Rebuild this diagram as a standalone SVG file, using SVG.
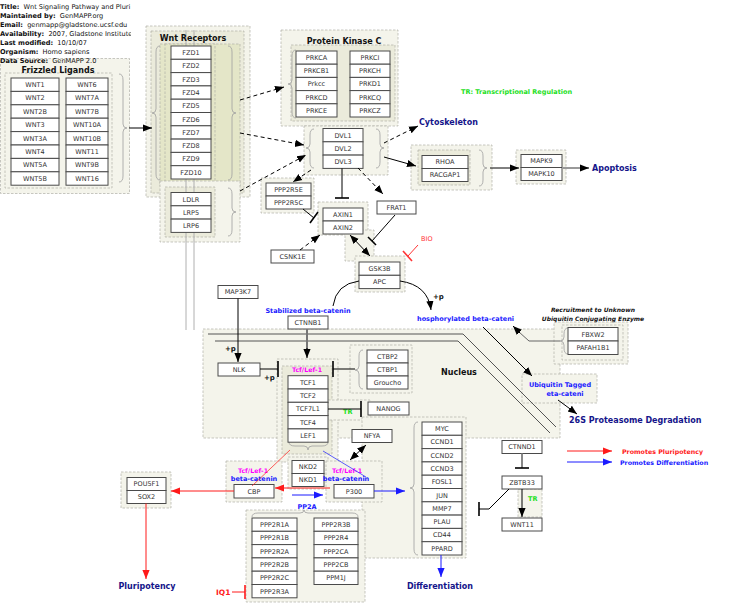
<svg xmlns="http://www.w3.org/2000/svg" width="729" height="613" viewBox="0 0 729 613">
<style>
.b{fill:#fff;stroke:#4a4a4a;stroke-width:1}
.t{font-family:"DejaVu Sans",sans-serif;font-size:6.5px;fill:#333;text-anchor:middle}
.g1{fill:#f4f4eb;stroke:#b0b0a8;stroke-width:0.7;stroke-dasharray:2.5 1.5}
.g2{fill:#ebebdb;stroke:#b0b0a8;stroke-width:0.7;stroke-dasharray:2.5 1.5}
.g3{fill:#e4e6c8;stroke:#b0b0a8;stroke-width:0.7;stroke-dasharray:2.5 1.5}
.br{fill:none;stroke:#a0a0a0;stroke-width:0.8}
.hd{font-family:"DejaVu Sans",sans-serif;font-size:6.6px;fill:#111}
.ti{font-family:"DejaVu Sans",sans-serif;font-weight:bold;font-size:8px;fill:#111;text-anchor:middle}
.nv{font-family:"DejaVu Sans",sans-serif;font-weight:bold;font-size:8px;fill:#14148a}
.bl{font-family:"DejaVu Sans",sans-serif;font-weight:bold;font-size:6.5px;fill:#1a1aff}
.mg{font-family:"DejaVu Sans",sans-serif;font-weight:bold;font-size:6.3px;fill:#ff00ff}
.gr{font-family:"DejaVu Sans",sans-serif;font-weight:bold;font-size:6.5px;fill:#22e022}
.c{fill:none;stroke:#000;stroke-width:1}
.d{fill:none;stroke:#000;stroke-width:1;stroke-dasharray:4 3}
.ib{fill:none;stroke:#000;stroke-width:1.6}
.p{font-family:"DejaVu Sans",sans-serif;font-weight:bold;font-size:7px;fill:#111}
</style>
<defs>
<marker id="ah" viewBox="0 0 10 10" refX="10" refY="5" markerWidth="9" markerHeight="9" orient="auto-start-reverse" markerUnits="userSpaceOnUse"><path d="M0,1 L10,5 L0,9 z" fill="#000"/></marker>
<marker id="ar" viewBox="0 0 10 10" refX="10" refY="5" markerWidth="9" markerHeight="9" orient="auto" markerUnits="userSpaceOnUse"><path d="M0,1 L10,5 L0,9 z" fill="#ff1a1a"/></marker>
<marker id="ab" viewBox="0 0 10 10" refX="10" refY="5" markerWidth="9" markerHeight="9" orient="auto" markerUnits="userSpaceOnUse"><path d="M0,1 L10,5 L0,9 z" fill="#1a1aff"/></marker>
<clipPath id="hc"><rect x="0" y="0" width="131" height="70"/></clipPath>
</defs>
<rect width="729" height="613" fill="#fff"/>

<!-- group backgrounds -->
<g id="groups">
<rect class="g1" x="203" y="329" width="357" height="109"/>
<rect class="g1" x="0.5" y="58.5" width="129" height="135"/>
<rect class="g1" x="5" y="73" width="107" height="115"/>
<path class="br" d="M119,74 Q123,74 123,80 L123,124 Q123,128 127,128 Q123,128 123,132 L123,176 Q123,182 119,182"/>
<rect class="g1" x="146" y="26" width="104" height="171"/>
<rect class="g2" x="151" y="31" width="93" height="162"/>
<rect class="g3" x="160" y="44" width="80" height="142"/>
<rect class="g3" x="165" y="44" width="50" height="139"/>
<path class="br" d="M160,46 Q156,46 156,52 L156,109 Q156,113 152,113 Q156,113 156,117 L156,174 Q156,180 160,180"/>
<path class="br" d="M228,46 Q232,46 232,52 L232,109 Q232,113 236,113 Q232,113 232,117 L232,174 Q232,180 228,180"/>
<rect class="g1" x="160" y="181" width="80" height="61"/>
<rect class="g2" x="165" y="187" width="50" height="50"/>
<path class="br" d="M228,188 Q232,188 232,194 L232,208 Q232,212 236,212 Q232,212 232,216 L232,230 Q232,236 228,236"/>
<rect class="g1" x="281" y="30" width="117" height="96"/>
<rect class="g2" x="291" y="45" width="104" height="76"/>
<path class="br" d="M296,50 Q292,50 292,56 L292,80 Q292,84 288,84 Q292,84 292,88 L292,112 Q292,118 296,118"/>
<rect class="g1" x="304" y="126" width="84" height="49"/>
<path class="br" d="M314,129 Q310,129 310,135 L310,144 Q310,148 306,148 Q310,148 310,152 L310,162 Q310,168 314,168"/>
<path class="br" d="M376,129 Q380,129 380,135 L380,144 Q380,148 384,148 Q380,148 380,152 L380,162 Q380,168 376,168"/>
<rect class="g1" x="411" y="145" width="81" height="45"/>
<rect class="g2" x="418" y="150" width="52" height="35"/>
<path class="br" d="M479,150 Q483,150 483,156 L483,164 Q483,168 487,168 Q483,168 483,172 L483,180 Q483,186 479,186"/>
<rect class="g1" x="516" y="150" width="50" height="34"/>
<rect class="g1" x="261" y="178" width="53" height="35"/>
<rect class="g1" x="318" y="202" width="50" height="33"/>
<rect class="g1" x="345" y="230" width="29" height="31"/>
<rect class="g1" x="355" y="256" width="50" height="36"/>
<rect class="g1" x="277" y="359" width="61" height="103"/>
<rect class="g2" x="282" y="366" width="50" height="88"/>
<path class="br" d="M289,442 Q289,446 295,446 L304,446 Q308,446 308,450 Q308,446 312,446 L322,446 Q328,446 328,442"/>
<rect class="g1" x="350" y="345" width="62" height="48"/>
<path class="br" d="M363,350 Q359,350 359,356 L359,366 Q359,370 355,370 Q359,370 359,374 L359,383 Q359,389 363,389"/>
<rect class="g1" x="328" y="400" width="42" height="20"/>
<rect class="g1" x="362" y="417" width="104" height="141"/>
<path class="br" d="M418,422 Q414,422 414,428 L414,484 Q414,488 410,488 Q414,488 414,492 L414,549 Q414,555 418,555"/>
<rect class="g1" x="288" y="457" width="40" height="32"/>
<rect class="g1" x="226" y="461" width="56" height="41"/>
<rect class="g1" x="326" y="461" width="56" height="41"/>
<rect class="g1" x="121" y="472" width="50" height="36"/>
<rect class="g1" x="246" y="510" width="119" height="92"/>
<path class="br" d="M252,517 Q252,513 258,513 L300,513 Q304,513 304,510 Q304,513 308,513 L352,513 Q358,513 358,517"/>
<rect class="g1" x="522" y="374" width="75" height="29"/>
<rect class="g1" x="554" y="322" width="74" height="42"/>
<rect class="g1" x="562" y="325" width="61" height="35"/>
<path class="br" d="M568,328 Q564,328 564,334 L564,337 Q564,341 560,341 Q564,341 564,345 L564,348 Q564,354 568,354"/>
<rect class="g1" x="518" y="489" width="24" height="28"/>
</g>

<!-- header -->
<g id="header" clip-path="url(#hc)">
<text class="hd" x="0" y="9"><tspan font-weight="bold">Title:</tspan>&#160; Wnt Signaling Pathway and Pluri</text>
<text class="hd" x="0" y="18"><tspan font-weight="bold">Maintained by:</tspan>&#160; GenMAPP.org</text>
<text class="hd" x="0" y="27.3"><tspan font-weight="bold">Email:</tspan>&#160; genmapp@gladstone.ucsf.edu</text>
<text class="hd" x="0" y="36.3"><tspan font-weight="bold">Availability:</tspan>&#160; 2007, Gladstone Institute</text>
<text class="hd" x="0" y="45.3"><tspan font-weight="bold">Last modified:</tspan>&#160; 10/10/07</text>
<text class="hd" x="0" y="54.3"><tspan font-weight="bold">Organism:</tspan>&#160; Homo sapiens</text>
<text class="hd" x="0" y="63"><tspan font-weight="bold">Data Source:</tspan>&#160; GenMAPP 2.0</text>
</g>

<!-- membranes -->
<g id="membranes" fill="none" stroke="#b0b0b0" stroke-width="1">
<line x1="186" y1="30" x2="186" y2="330"/>
<line x1="194" y1="30" x2="194" y2="330"/>
<polyline stroke="#555" points="208,334 463,334 556,427"/>
<polyline stroke="#555" points="215,341 458,341 550,433"/>
</g>

<!-- nodes -->
<g id="n-WNT1"><rect class="b" x="11" y="78" width="48" height="13.4"/><text class="t" x="35" y="87">WNT1</text></g>
<g id="n-WNT2"><rect class="b" x="11" y="91.4" width="48" height="13.4"/><text class="t" x="35" y="100.4">WNT2</text></g>
<g id="n-WNT2B"><rect class="b" x="11" y="104.8" width="48" height="13.4"/><text class="t" x="35" y="113.8">WNT2B</text></g>
<g id="n-WNT3"><rect class="b" x="11" y="118.2" width="48" height="13.4"/><text class="t" x="35" y="127.2">WNT3</text></g>
<g id="n-WNT3A"><rect class="b" x="11" y="131.6" width="48" height="13.4"/><text class="t" x="35" y="140.6">WNT3A</text></g>
<g id="n-WNT4"><rect class="b" x="11" y="145" width="48" height="13.4"/><text class="t" x="35" y="154">WNT4</text></g>
<g id="n-WNT5A"><rect class="b" x="11" y="158.4" width="48" height="13.4"/><text class="t" x="35" y="167.4">WNT5A</text></g>
<g id="n-WNT5B"><rect class="b" x="11" y="171.8" width="48" height="13.4"/><text class="t" x="35" y="180.8">WNT5B</text></g>
<g id="n-WNT6"><rect class="b" x="66" y="78" width="42" height="13.4"/><text class="t" x="87" y="87">WNT6</text></g>
<g id="n-WNT7A"><rect class="b" x="66" y="91.4" width="42" height="13.4"/><text class="t" x="87" y="100.4">WNT7A</text></g>
<g id="n-WNT7B"><rect class="b" x="66" y="104.8" width="42" height="13.4"/><text class="t" x="87" y="113.8">WNT7B</text></g>
<g id="n-WNT10A"><rect class="b" x="66" y="118.2" width="42" height="13.4"/><text class="t" x="87" y="127.2">WNT10A</text></g>
<g id="n-WNT10B"><rect class="b" x="66" y="131.6" width="42" height="13.4"/><text class="t" x="87" y="140.6">WNT10B</text></g>
<g id="n-WNT11a"><rect class="b" x="66" y="145" width="42" height="13.4"/><text class="t" x="87" y="154">WNT11</text></g>
<g id="n-WNT9B"><rect class="b" x="66" y="158.4" width="42" height="13.4"/><text class="t" x="87" y="167.4">WNT9B</text></g>
<g id="n-WNT16"><rect class="b" x="66" y="171.8" width="42" height="13.4"/><text class="t" x="87" y="180.8">WNT16</text></g>
<text class="ti" x="58" y="72.5">Frizzled Ligands</text>

<text class="ti" x="193" y="41">Wnt Receptors</text>
<g id="n-FZD1"><rect class="b" x="171" y="46" width="40" height="13.3"/><text class="t" x="191" y="55">FZD1</text></g>
<g id="n-FZD2"><rect class="b" x="171" y="59.3" width="40" height="13.3"/><text class="t" x="191" y="68.3">FZD2</text></g>
<g id="n-FZD3"><rect class="b" x="171" y="72.6" width="40" height="13.3"/><text class="t" x="191" y="81.6">FZD3</text></g>
<g id="n-FZD4"><rect class="b" x="171" y="85.9" width="40" height="13.3"/><text class="t" x="191" y="94.9">FZD4</text></g>
<g id="n-FZD5"><rect class="b" x="171" y="99.2" width="40" height="13.3"/><text class="t" x="191" y="108.2">FZD5</text></g>
<g id="n-FZD6"><rect class="b" x="171" y="112.5" width="40" height="13.3"/><text class="t" x="191" y="121.5">FZD6</text></g>
<g id="n-FZD7"><rect class="b" x="171" y="125.8" width="40" height="13.3"/><text class="t" x="191" y="134.8">FZD7</text></g>
<g id="n-FZD8"><rect class="b" x="171" y="139.1" width="40" height="13.3"/><text class="t" x="191" y="148.1">FZD8</text></g>
<g id="n-FZD9"><rect class="b" x="171" y="152.4" width="40" height="13.3"/><text class="t" x="191" y="161.4">FZD9</text></g>
<g id="n-FZD10"><rect class="b" x="171" y="165.7" width="40" height="13.3"/><text class="t" x="191" y="174.7">FZD10</text></g>
<g id="n-LDLR"><rect class="b" x="171" y="192.5" width="40" height="13.3"/><text class="t" x="191" y="201.5">LDLR</text></g>
<g id="n-LRP5"><rect class="b" x="171" y="205.8" width="40" height="13.3"/><text class="t" x="191" y="214.8">LRP5</text></g>
<g id="n-LRP6"><rect class="b" x="171" y="219.1" width="40" height="13.3"/><text class="t" x="191" y="228.1">LRP6</text></g>

<text class="ti" x="344" y="44">Protein Kinase C</text>
<g id="n-PRKCA"><rect class="b" x="296" y="51" width="41" height="13.2"/><text class="t" x="316.5" y="60">PRKCA</text></g>
<g id="n-PRKCB1"><rect class="b" x="296" y="64.2" width="41" height="13.2"/><text class="t" x="316.5" y="73.2">PRKCB1</text></g>
<g id="n-Prkcc"><rect class="b" x="296" y="77.4" width="41" height="13.2"/><text class="t" x="316.5" y="86.4">Prkcc</text></g>
<g id="n-PRKCD"><rect class="b" x="296" y="90.6" width="41" height="13.2"/><text class="t" x="316.5" y="99.6">PRKCD</text></g>
<g id="n-PRKCE"><rect class="b" x="296" y="103.8" width="41" height="13.2"/><text class="t" x="316.5" y="112.8">PRKCE</text></g>
<g id="n-PRKCI"><rect class="b" x="350" y="51" width="40" height="13.2"/><text class="t" x="370" y="60">PRKCI</text></g>
<g id="n-PRKCH"><rect class="b" x="350" y="64.2" width="40" height="13.2"/><text class="t" x="370" y="73.2">PRKCH</text></g>
<g id="n-PRKD1"><rect class="b" x="350" y="77.4" width="40" height="13.2"/><text class="t" x="370" y="86.4">PRKD1</text></g>
<g id="n-PRKCQ"><rect class="b" x="350" y="90.6" width="40" height="13.2"/><text class="t" x="370" y="99.6">PRKCQ</text></g>
<g id="n-PRKCZ"><rect class="b" x="350" y="103.8" width="40" height="13.2"/><text class="t" x="370" y="112.8">PRKCZ</text></g>

<g id="n-DVL1"><rect class="b" x="323" y="128.5" width="40" height="13.3"/><text class="t" x="343" y="137.5">DVL1</text></g>
<g id="n-DVL2"><rect class="b" x="323" y="141.8" width="40" height="13.3"/><text class="t" x="343" y="150.8">DVL2</text></g>
<g id="n-DVL3"><rect class="b" x="323" y="155.1" width="40" height="13.3"/><text class="t" x="343" y="164.1">DVL3</text></g>

<g id="n-RHOA"><rect class="b" x="422" y="155.5" width="46" height="13"/><text class="t" x="445" y="164.3">RHOA</text></g>
<g id="n-RACGAP1"><rect class="b" x="422" y="168.5" width="46" height="13"/><text class="t" x="445" y="177.3">RACGAP1</text></g>
<g id="n-MAPK9"><rect class="b" x="521" y="154.5" width="41" height="13"/><text class="t" x="541.5" y="163.3">MAPK9</text></g>
<g id="n-MAPK10"><rect class="b" x="521" y="167.5" width="41" height="13"/><text class="t" x="541.5" y="176.3">MAPK10</text></g>

<g id="n-PPP2R5E"><rect class="b" x="266" y="183" width="45" height="13"/><text class="t" x="288.5" y="191.8">PPP2R5E</text></g>
<g id="n-PPP2R5C"><rect class="b" x="266" y="196" width="45" height="13"/><text class="t" x="288.5" y="204.8">PPP2R5C</text></g>
<g id="n-AXIN1"><rect class="b" x="323" y="208" width="40" height="13"/><text class="t" x="343" y="216.8">AXIN1</text></g>
<g id="n-AXIN2"><rect class="b" x="323" y="221" width="40" height="13"/><text class="t" x="343" y="229.8">AXIN2</text></g>
<g id="n-FRAT1"><rect class="b" x="377" y="201" width="39" height="13"/><text class="t" x="396.5" y="209.8">FRAT1</text></g>
<g id="n-CSNK1E"><rect class="b" x="271" y="250" width="43" height="13"/><text class="t" x="292.5" y="258.8">CSNK1E</text></g>
<g id="n-GSK3B"><rect class="b" x="359" y="262" width="41" height="13.3"/><text class="t" x="379.5" y="271">GSK3B</text></g>
<g id="n-APC"><rect class="b" x="359" y="275.3" width="41" height="13.3"/><text class="t" x="379.5" y="284.3">APC</text></g>
<g id="n-MAP3K7"><rect class="b" x="218" y="285.5" width="40" height="13"/><text class="t" x="238" y="294.3">MAP3K7</text></g>
<g id="n-CTNNB1"><rect class="b" x="288" y="316" width="40" height="13"/><text class="t" x="308" y="324.8">CTNNB1</text></g>
<g id="n-NLK"><rect class="b" x="218" y="363" width="42" height="13"/><text class="t" x="239" y="371.8">NLK</text></g>

<text class="mg" x="307" y="372" text-anchor="middle">Tcf/Lef-1</text>
<g id="n-TCF1"><rect class="b" x="288" y="375.7" width="40" height="13.3"/><text class="t" x="308" y="384.7">TCF1</text></g>
<g id="n-TCF2"><rect class="b" x="288" y="389" width="40" height="13.3"/><text class="t" x="308" y="398">TCF2</text></g>
<g id="n-TCF7L1"><rect class="b" x="288" y="402.3" width="40" height="13.3"/><text class="t" x="308" y="411.3">TCF7L1</text></g>
<g id="n-TCF4"><rect class="b" x="288" y="415.6" width="40" height="13.3"/><text class="t" x="308" y="424.6">TCF4</text></g>
<g id="n-LEF1"><rect class="b" x="288" y="428.9" width="40" height="13.3"/><text class="t" x="308" y="437.9">LEF1</text></g>
<g id="n-CTBP2"><rect class="b" x="367" y="350" width="41" height="13"/><text class="t" x="387.5" y="358.8">CTBP2</text></g>
<g id="n-CTBP1"><rect class="b" x="367" y="363" width="41" height="13"/><text class="t" x="387.5" y="371.8">CTBP1</text></g>
<g id="n-Groucho"><rect class="b" x="367" y="376" width="41" height="13"/><text class="t" x="387.5" y="384.8">Groucho</text></g>
<g id="n-NANOG"><rect class="b" x="368" y="402" width="41" height="13"/><text class="t" x="388.5" y="410.8">NANOG</text></g>
<g id="n-NFYA"><rect class="b" x="352" y="429.5" width="40" height="13"/><text class="t" x="372" y="438.3">NFYA</text></g>

<g id="n-MYC"><rect class="b" x="422" y="422" width="40" height="13.3"/><text class="t" x="442" y="431">MYC</text></g>
<g id="n-CCND1"><rect class="b" x="422" y="435.3" width="40" height="13.3"/><text class="t" x="442" y="444.3">CCND1</text></g>
<g id="n-CCND2"><rect class="b" x="422" y="448.6" width="40" height="13.3"/><text class="t" x="442" y="457.6">CCND2</text></g>
<g id="n-CCND3"><rect class="b" x="422" y="461.9" width="40" height="13.3"/><text class="t" x="442" y="470.9">CCND3</text></g>
<g id="n-FOSL1"><rect class="b" x="422" y="475.2" width="40" height="13.3"/><text class="t" x="442" y="484.2">FOSL1</text></g>
<g id="n-JUN"><rect class="b" x="422" y="488.5" width="40" height="13.3"/><text class="t" x="442" y="497.5">JUN</text></g>
<g id="n-MMP7"><rect class="b" x="422" y="501.8" width="40" height="13.3"/><text class="t" x="442" y="510.8">MMP7</text></g>
<g id="n-PLAU"><rect class="b" x="422" y="515.1" width="40" height="13.3"/><text class="t" x="442" y="524.1">PLAU</text></g>
<g id="n-CD44"><rect class="b" x="422" y="528.4" width="40" height="13.3"/><text class="t" x="442" y="537.4">CD44</text></g>
<g id="n-PPARD"><rect class="b" x="422" y="541.7" width="40" height="13.3"/><text class="t" x="442" y="550.7">PPARD</text></g>

<g id="n-NKD2"><rect class="b" x="292" y="460.5" width="32" height="13"/><text class="t" x="308" y="469.3">NKD2</text></g>
<g id="n-NKD1"><rect class="b" x="292" y="473.5" width="32" height="13"/><text class="t" x="308" y="482.3">NKD1</text></g>
<g id="n-CBP"><text class="mg" x="253" y="472.5" text-anchor="middle">Tcf/Lef-1</text><text class="bl" x="254" y="480.5" text-anchor="middle">beta-catenin</text><rect class="b" x="234" y="484.5" width="40" height="13.5"/><text class="t" x="254" y="493.5">CBP</text></g>
<g id="n-P300"><text class="mg" x="347" y="472.5" text-anchor="middle">Tcf/Lef-1</text><text class="bl" x="346" y="480.5" text-anchor="middle">beta-catenin</text><rect class="b" x="334" y="484.5" width="40" height="13.5"/><text class="t" x="354" y="493.5">P300</text></g>
<g id="n-POU5F1"><rect class="b" x="127" y="477.5" width="39" height="13"/><text class="t" x="146.5" y="486.3">POU5F1</text></g>
<g id="n-SOX2"><rect class="b" x="127" y="490.5" width="39" height="13"/><text class="t" x="146.5" y="499.3">SOX2</text></g>

<g id="n-PPP2R1A"><rect class="b" x="252" y="518" width="45" height="13.3"/><text class="t" x="274.5" y="527">PPP2R1A</text></g>
<g id="n-PPP2R1B"><rect class="b" x="252" y="531.3" width="45" height="13.3"/><text class="t" x="274.5" y="540.3">PPP2R1B</text></g>
<g id="n-PPP2R2A"><rect class="b" x="252" y="544.6" width="45" height="13.3"/><text class="t" x="274.5" y="553.6">PPP2R2A</text></g>
<g id="n-PPP2R2B"><rect class="b" x="252" y="557.9" width="45" height="13.3"/><text class="t" x="274.5" y="566.9">PPP2R2B</text></g>
<g id="n-PPP2R2C"><rect class="b" x="252" y="571.2" width="45" height="13.3"/><text class="t" x="274.5" y="580.2">PPP2R2C</text></g>
<g id="n-PPP2R3A"><rect class="b" x="252" y="584.5" width="45" height="13.3"/><text class="t" x="274.5" y="593.5">PPP2R3A</text></g>
<g id="n-PPP2R3B"><rect class="b" x="314" y="518" width="44" height="13.3"/><text class="t" x="336" y="527">PPP2R3B</text></g>
<g id="n-PPP2R4"><rect class="b" x="314" y="531.3" width="44" height="13.3"/><text class="t" x="336" y="540.3">PPP2R4</text></g>
<g id="n-PPP2CA"><rect class="b" x="314" y="544.6" width="44" height="13.3"/><text class="t" x="336" y="553.6">PPP2CA</text></g>
<g id="n-PPP2CB"><rect class="b" x="314" y="557.9" width="44" height="13.3"/><text class="t" x="336" y="566.9">PPP2CB</text></g>
<g id="n-PPM1J"><rect class="b" x="314" y="571.2" width="44" height="13.3"/><text class="t" x="336" y="580.2">PPM1J</text></g>

<g id="n-CTNND1"><rect class="b" x="502" y="440.5" width="40" height="13"/><text class="t" x="522" y="449.3">CTNND1</text></g>
<g id="n-ZBTB33"><rect class="b" x="502" y="476" width="40" height="13"/><text class="t" x="522" y="484.8">ZBTB33</text></g>
<g id="n-WNT11"><rect class="b" x="502" y="518" width="40" height="13"/><text class="t" x="522" y="526.8">WNT11</text></g>
<g id="n-FBXW2"><rect class="b" x="568" y="327.5" width="50" height="13.5"/><text class="t" x="593" y="336.5">FBXW2</text></g>
<g id="n-PAFAH1B1"><rect class="b" x="568" y="341" width="50" height="13.5"/><text class="t" x="593" y="350">PAFAH1B1</text></g>

<!-- labels -->
<g id="labels">
<text class="nv" x="419" y="125">Cytoskeleton</text>
<text class="nv" x="592" y="171">Apoptosis</text>
<text class="gr" x="461" y="94" font-size="7px">TR: Transcriptional Regulation</text>
<text class="bl" x="308" y="313" text-anchor="middle">Stabilized beta-catenin</text>
<text class="bl" x="417" y="321">hosphorylated beta-cateni</text>
<text class="p" x="433" y="299">+p</text>
<text class="p" x="225" y="351">+p</text>
<text class="p" x="264" y="380">+p</text>
<text class="ti" x="459" y="375">Nucleus</text>
<text x="593" y="312" text-anchor="middle" font-family="DejaVu Sans, sans-serif" font-size="6px" font-weight="bold" font-style="italic" fill="#111">Recruitment to Unknown</text>
<text x="593" y="321" text-anchor="middle" font-family="DejaVu Sans, sans-serif" font-size="6px" font-weight="bold" font-style="italic" fill="#111">Ubiquitin Conjugating Enzyme</text>
<text class="bl" x="560" y="387" text-anchor="middle" font-size="6px">Ubiquitin Tagged</text>
<text class="bl" x="565" y="396" text-anchor="middle" font-size="6px">eta-cateni</text>
<text class="nv" x="569" y="423">26S Proteasome Degradation</text>
<text class="gr" x="343" y="414">TR</text>
<text class="gr" x="528" y="501">TR</text>
<text x="421" y="241" font-family="DejaVu Sans, sans-serif" font-size="6.5px" fill="#ff3333">BIO</text>
<text class="bl" x="307" y="509" text-anchor="middle" font-size="7px">PP2A</text>
<text class="nv" x="147" y="589" text-anchor="middle">Pluripotency</text>
<text class="nv" x="440" y="589" text-anchor="middle">Differentiation</text>
<text x="216" y="595" font-family="DejaVu Sans, sans-serif" font-size="7.5px" font-weight="bold" fill="#ff1a1a">IQ1</text>
<text x="622" y="454" font-family="DejaVu Sans, sans-serif" font-size="6.3px" font-weight="bold" fill="#ff1a1a">Promotes Pluripotency</text>
<text x="620" y="465" font-family="DejaVu Sans, sans-serif" font-size="6.3px" font-weight="bold" fill="#1a1aff">Promotes Differentiation</text>
</g>

<!-- connectors -->
<g id="connectors">
<line class="c" x1="129" y1="128" x2="152" y2="128" marker-end="url(#ah)"/>
<line class="d" x1="240" y1="100" x2="284" y2="87" marker-end="url(#ah)"/>
<line class="d" x1="240" y1="133" x2="304" y2="145" marker-end="url(#ah)"/>
<line class="d" x1="240" y1="191" x2="306" y2="155" marker-end="url(#ah)"/>
<line class="d" x1="384" y1="143" x2="418" y2="126" marker-end="url(#ah)"/>
<line class="c" x1="384" y1="157" x2="416" y2="166" marker-end="url(#ah)"/>
<line class="c" x1="490" y1="168" x2="519" y2="168" marker-end="url(#ah)"/>
<line x1="562" y1="168" x2="582" y2="168" stroke="#999" stroke-width="2"/>
<line class="c" x1="580" y1="168" x2="589" y2="168" marker-end="url(#ah)"/>
<line class="d" x1="311" y1="170" x2="293" y2="182" marker-end="url(#ah)"/>
<line class="c" x1="342" y1="168.4" x2="342" y2="198"/><line class="ib" x1="335" y1="198" x2="349" y2="198"/>
<line class="d" x1="358" y1="168" x2="383" y2="194" marker-end="url(#ah)"/>
<line class="c" x1="303" y1="209" x2="314" y2="218"/><line class="ib" x1="310" y1="223" x2="318" y2="212"/>
<line class="d" x1="300" y1="250" x2="320" y2="235" marker-end="url(#ah)"/>
<line class="c" x1="395" y1="215" x2="372" y2="241"/><line class="ib" x1="368" y1="237" x2="376" y2="245"/>
<line class="c" x1="350" y1="235" x2="370" y2="256" marker-start="url(#ah)" marker-end="url(#ah)"/>
<line x1="418" y1="245" x2="408" y2="256" stroke="#ff3333" stroke-width="1"/><line x1="403" y1="251" x2="412" y2="261" stroke="#ff3333" stroke-width="1.6"/>
<path class="c" d="M359,281 Q336,284 333,306"/>
<path class="c" d="M400,281 Q428,285 431,310" marker-end="url(#ah)"/>
<line x1="307" y1="329" x2="307" y2="350" stroke="#777" stroke-width="2"/>
<line class="c" x1="307" y1="348" x2="307" y2="358" marker-end="url(#ah)"/>
<line class="c" x1="238" y1="298.5" x2="238" y2="362" marker-end="url(#ah)"/>
<line class="c" x1="260" y1="369" x2="278" y2="369"/><line class="ib" x1="278" y1="361" x2="278" y2="377"/>
<line class="c" x1="355" y1="369" x2="333" y2="369"/><line class="ib" x1="333" y1="361" x2="333" y2="377"/>
<line class="c" x1="328" y1="409" x2="361" y2="409"/><line class="ib" x1="361" y1="401" x2="361" y2="417"/>
<line class="c" x1="366" y1="445" x2="350" y2="460" marker-start="url(#ah)" marker-end="url(#ah)"/>
<line x1="290" y1="450" x2="252" y2="486" stroke="#ff1a1a" stroke-width="0.7"/>
<line x1="323" y1="451" x2="366" y2="477" stroke="#1a1aff" stroke-width="0.7"/>
<line x1="330" y1="488" x2="275" y2="488" stroke="#ff1a1a" stroke-width="1" marker-end="url(#ar)"/>
<line x1="292" y1="495" x2="323" y2="495" stroke="#1a1aff" stroke-width="1" marker-end="url(#ab)"/>
<line x1="374" y1="491" x2="405" y2="491" stroke="#1a1aff" stroke-width="1" marker-end="url(#ab)"/>
<line x1="234" y1="491" x2="171" y2="491" stroke="#ff1a1a" stroke-width="1" marker-end="url(#ar)"/>
<line x1="146" y1="503.5" x2="146" y2="579" stroke="#ff1a1a" stroke-width="1" marker-end="url(#ar)"/>
<line x1="441" y1="555" x2="441" y2="577" stroke="#1a1aff" stroke-width="1" marker-end="url(#ab)"/>
<line x1="232" y1="592" x2="245" y2="592" stroke="#ff1a1a" stroke-width="1"/><line x1="245" y1="585" x2="245" y2="599" stroke="#ff1a1a" stroke-width="1.6"/>
<line class="c" x1="483" y1="327" x2="532" y2="376" marker-end="url(#ah)"/>
<polyline fill="none" stroke="#666" stroke-width="1" points="560,341 529,341 519,332"/>
<line class="c" x1="520" y1="333" x2="513" y2="326" marker-end="url(#ah)"/>
<line class="c" x1="558" y1="400" x2="577" y2="414" marker-end="url(#ah)"/>
<line x1="522" y1="453.5" x2="522" y2="468" stroke="#888" stroke-width="2"/><line class="ib" x1="515" y1="468" x2="529" y2="468"/>
<line class="c" x1="522" y1="489" x2="522" y2="517" marker-end="url(#ah)"/>
<polyline class="c" points="509,489 489,509 479,509"/><line class="ib" x1="479" y1="502" x2="479" y2="516"/>
<line x1="567" y1="451" x2="612" y2="451" stroke="#ff1a1a" stroke-width="1" marker-end="url(#ar)"/>
<line x1="567" y1="462" x2="612" y2="462" stroke="#1a1aff" stroke-width="1" marker-end="url(#ab)"/>
</g>
</svg>
